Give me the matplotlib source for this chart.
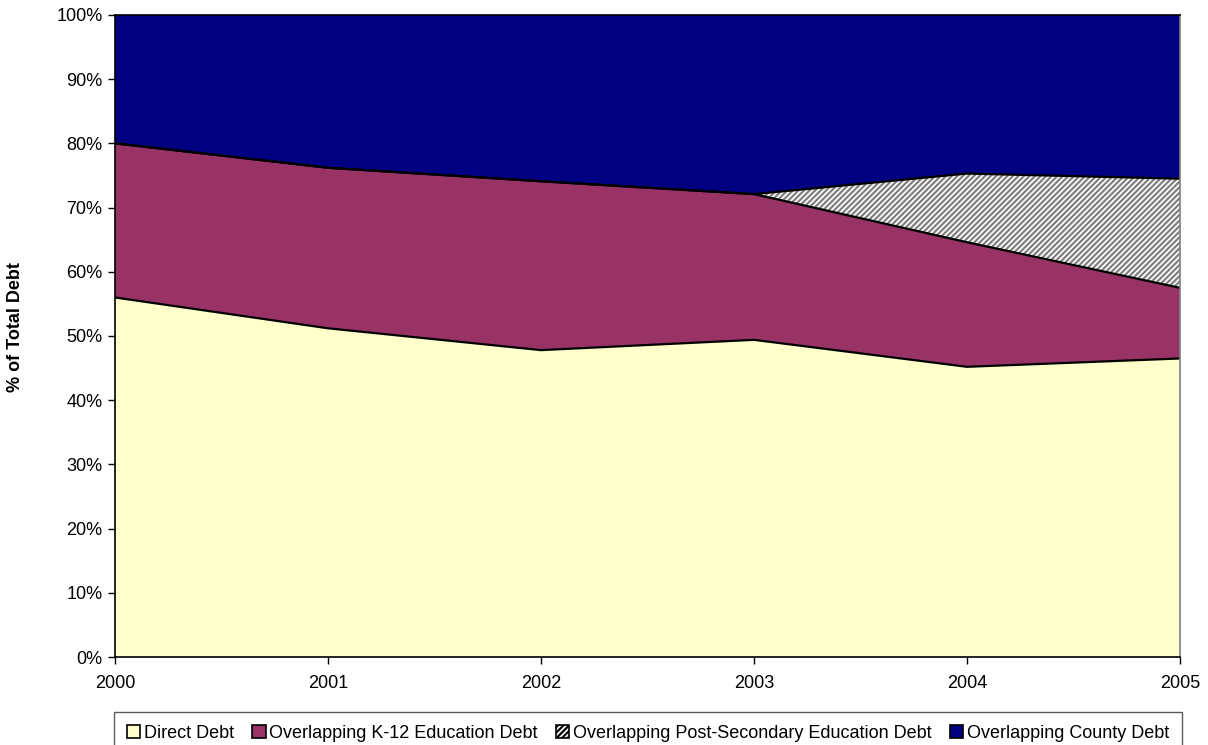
import matplotlib.pyplot as plt
import matplotlib as mpl
from matplotlib.patches import Patch
import numpy as np

plt.rcParams['font.family'] = ['Liberation Sans', 'DejaVu Sans']
mpl.rcParams['hatch.color'] = '#808080'
mpl.rcParams['hatch.linewidth'] = 1.6

years = [2000, 2001, 2002, 2003, 2004, 2005]
# shares of total debt in percent
direct_debt = [56.0, 51.2, 47.8, 49.4, 45.2, 46.5]
k12_debt = [24.0, 25.0, 26.3, 22.7, 19.4, 11.0]
post_secondary_debt = [0.0, 0.0, 0.0, 0.0, 10.7, 17.0]
county_debt = [20.0, 23.8, 25.9, 27.9, 24.7, 25.5]

labels = ['Direct Debt', 'Overlapping K-12 Education Debt',
          'Overlapping Post-Secondary Education Debt', 'Overlapping County Debt']
colors = ['#FFFFCC', '#993366', 'white', '#000080']
hatches = [None, None, '//////', None]

fig = plt.figure(figsize=(12.08, 7.45), dpi=100)
ax = fig.add_axes([0.0952, 0.1181, 0.8816, 0.8618])

series = [direct_debt, k12_debt, post_secondary_debt, county_debt]
bottom = np.zeros(len(years))
for vals, col, h in zip(series, colors, hatches):
    top = bottom + np.array(vals)
    ax.fill_between(years, bottom, top, facecolor=col, hatch=h,
                    edgecolor='none', linewidth=0)
    bottom = top

# black boundary lines between the layers
bottom = np.zeros(len(years))
for vals in series[:-1]:
    bottom = bottom + np.array(vals)
    ax.plot(years, bottom, color='black', lw=1.6)

ax.set_xlim(2000, 2005)
ax.set_ylim(0, 100)
ax.set_xticks(years)
ax.set_yticks(range(0, 101, 10))
ax.set_yticklabels([f'{v}%' for v in range(0, 101, 10)])
ax.tick_params(axis='both', direction='out', length=5, width=1, labelsize=13,
               colors='black')
ax.tick_params(axis='x', pad=8)
ax.tick_params(axis='y', pad=4)
for s in ax.spines.values():
    s.set_linewidth(1.2)
    s.set_color('black')
ax.spines['right'].set_color('#808080')

fig.text(0.0125, 0.561, '% of Total Debt', rotation=90, fontsize=13,
         fontweight='bold', ha='center', va='center')

handles = [Patch(facecolor=c, edgecolor='black', hatch=h, linewidth=1.2)
           for c, h in zip(colors, hatches)]
leg = fig.legend(handles, labels, loc='upper center', bbox_to_anchor=(0.5364, 0.0443),
                 ncol=4, fontsize=13, frameon=True, fancybox=False,
                 handlelength=0.75, handleheight=0.75, handletextpad=0.2,
                 columnspacing=1.0, borderpad=0.7, borderaxespad=0)
leg.get_frame().set_edgecolor('#333333')
leg.get_frame().set_linewidth(1.0)

fig.savefig('out.png', dpi=100)
